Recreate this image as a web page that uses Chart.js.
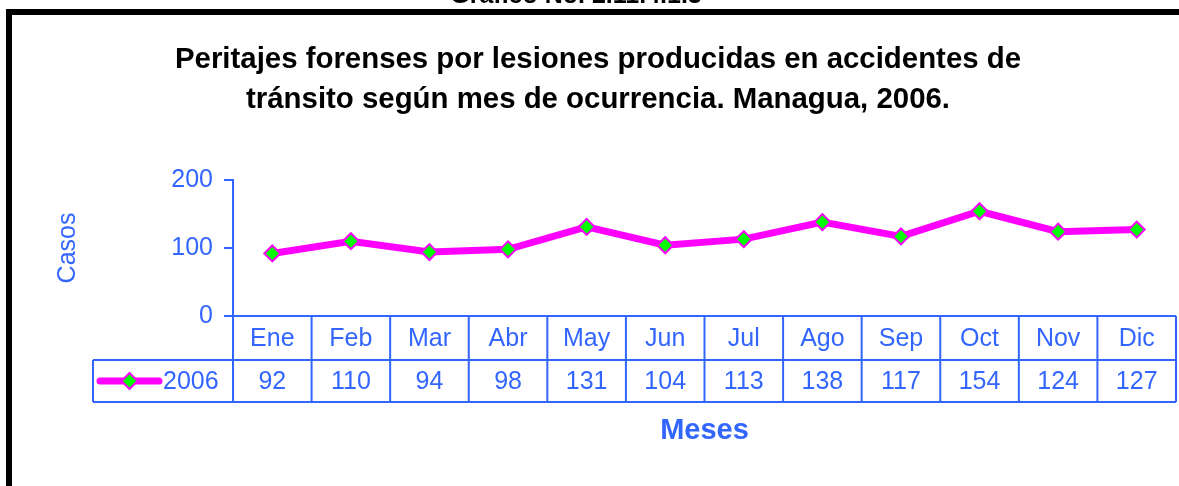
<!DOCTYPE html>
<html>
<head>
<meta charset="utf-8">
<script src="https://cdn.jsdelivr.net/npm/chart.js@4"></script>
<style>
  html, body { margin: 0; padding: 0; background: #fff; }
  #chart { display: block; }
</style>
</head>
<body>
<canvas id="chart" width="1179" height="486"></canvas>
<script>
const months = ['Ene', 'Feb', 'Mar', 'Abr', 'May', 'Jun', 'Jul', 'Ago', 'Sep', 'Oct', 'Nov', 'Dic'];
const cases2006 = [92, 110, 94, 98, 131, 104, 113, 138, 117, 154, 124, 127];
const seriesName = '2006';
const yTicks = [0, 100, 200];
const titleLines = ['Peritajes forenses por lesiones producidas en accidentes de', 'tránsito según mes de ocurrencia. Managua, 2006.'];
const topCaption = 'Gráfico No. 2.11.4.1.3';

const BLUE = '#3366FF';
const MAGENTA = '#FF00FF';
const GREEN = '#00FF00';
const FONT = '"Liberation Sans", Arial, sans-serif';

// frame, caption, data table and x title
const tablePlugin = {
    id: 'dataTable',
    afterDraw: function(chart) {
        const ctx = chart.ctx;
        const area = chart.chartArea;
        const x = chart.scales.x;
        const colW = (area.right - area.left) / months.length;
        const rowTop = area.bottom;
        const rowMid = rowTop + 44;
        const rowBot = rowMid + 42;
        const legLeft = 93;

        ctx.save();
        // black frame
        ctx.strokeStyle = '#000';
        ctx.lineWidth = 6;
        ctx.strokeRect(9, 12, 1400, 700);

        ctx.fillStyle = '#000';
        ctx.font = 'bold 25px ' + FONT;
        ctx.textAlign = 'center';
        ctx.textBaseline = 'alphabetic';
        ctx.fillText(topCaption, 576, 3);

        // table grid
        ctx.strokeStyle = BLUE;
        ctx.lineWidth = 2;
        ctx.beginPath();
        ctx.moveTo(area.left, rowTop); ctx.lineTo(area.right, rowTop);
        ctx.moveTo(legLeft, rowMid); ctx.lineTo(area.right, rowMid);
        ctx.moveTo(legLeft, rowBot); ctx.lineTo(area.right, rowBot);
        ctx.moveTo(legLeft, rowMid); ctx.lineTo(legLeft, rowBot);
        for (let i = 0; i <= months.length; i++) {
            const gx = area.left + i * colW;
            ctx.moveTo(gx, rowTop); ctx.lineTo(gx, rowBot);
        }
        ctx.stroke();

        // cells
        ctx.fillStyle = BLUE;
        ctx.font = '25px ' + FONT;
        ctx.textAlign = 'center';
        ctx.textBaseline = 'middle';
        months.forEach(function(m, i) {
            const cx = x.getPixelForValue(i);
            ctx.fillText(m, cx, (rowTop + rowMid) / 2 + 1);
            ctx.fillText(String(cases2006[i]), cx, (rowMid + rowBot) / 2 + 1);
        });

        // legend key
        const ky = (rowMid + rowBot) / 2;
        ctx.strokeStyle = MAGENTA;
        ctx.lineWidth = 7;
        ctx.lineCap = 'round';
        ctx.beginPath();
        ctx.moveTo(100, ky); ctx.lineTo(159, ky);
        ctx.stroke();
        ctx.beginPath();
        ctx.moveTo(129.5 - 8, ky); ctx.lineTo(129.5, ky - 8);
        ctx.lineTo(129.5 + 8, ky); ctx.lineTo(129.5, ky + 8);
        ctx.closePath();
        ctx.fillStyle = GREEN;
        ctx.fill();
        ctx.lineWidth = 2;
        ctx.stroke();
        ctx.fillStyle = BLUE;
        ctx.textAlign = 'left';
        ctx.fillText(seriesName, 163, ky + 1);

        // x title
        ctx.font = 'bold 29px ' + FONT;
        ctx.textAlign = 'center';
        ctx.fillText('Meses', (area.left + area.right) / 2, 431);
        ctx.restore();
    }
};

new Chart(document.getElementById('chart'), {
    type: 'line',
    data: {
        labels: months,
        datasets: [{
            label: seriesName,
            data: cases2006,
            borderColor: MAGENTA,
            borderWidth: 7,
            pointStyle: 'rectRot',
            pointRadius: 8,
            pointBackgroundColor: GREEN,
            pointBorderColor: MAGENTA,
            pointBorderWidth: 2,
            tension: 0,
            clip: false
        }]
    },
    options: {
        responsive: false,
        animation: false,
        layout: { autoPadding: false, padding: { left: 20, right: 3, top: 0, bottom: 170 } },
        plugins: {
            legend: { display: false },
            tooltip: { enabled: false },
            title: {
                display: true,
                text: titleLines,
                color: '#000',
                font: { family: FONT, size: 29.4, weight: 'bold', lineHeight: 1.36 },
                padding: { top: 40, bottom: 60 }
            }
        },
        scales: {
            x: {
                display: false,
                offset: true
            },
            y: {
                min: 0,
                max: 200,
                afterFit: function(scale) { scale.width = 213; },
                afterBuildTicks: function(scale) { scale.ticks = yTicks.map(v => ({ value: v })); },
                ticks: {
                    color: BLUE,
                    padding: 11,
                    font: { family: FONT, size: 25 }
                },
                grid: { drawOnChartArea: false, color: BLUE, lineWidth: 2, tickLength: 9 },
                border: { color: BLUE, width: 2 },
                title: {
                    display: true,
                    text: 'Casos',
                    color: BLUE,
                    padding: { top: 33, bottom: 0 },
                    font: { family: FONT, size: 25 }
                }
            }
        }
    },
    plugins: [tablePlugin]
});
</script>
</body>
</html>
